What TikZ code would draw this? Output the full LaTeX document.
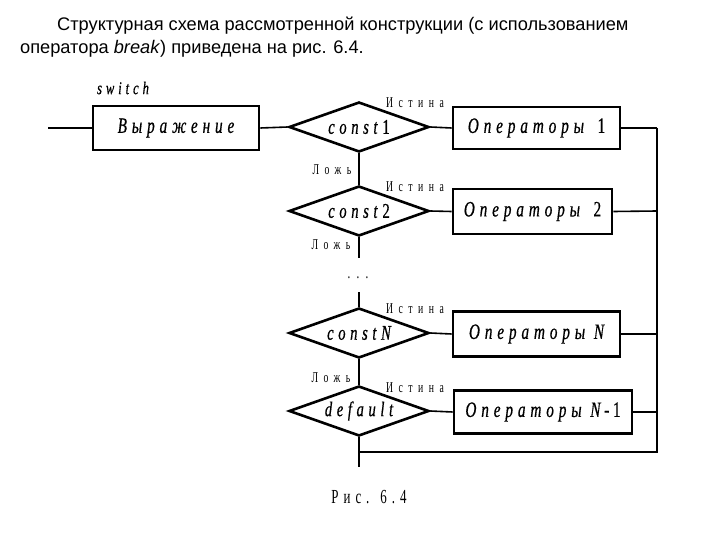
\documentclass[tikz,border=0pt]{standalone}
\usepackage{fontspec}
\usetikzlibrary{shapes.geometric}
\setmainfont{Liberation Serif}
\newfontfamily\hdr{Liberation Sans}
\newfontfamily\lblf[LetterSpace=37,FakeStretch=0.65]{Liberation Serif}
\newfontfamily\capf[LetterSpace=25,FakeStretch=0.65]{Liberation Serif}
\newfontfamily\itf[LetterSpace=22,FakeStretch=0.7,FakeBold=0.6]{Liberation Serif}
\begin{document}
\begin{tikzpicture}[x=1bp,y=-1bp,
  box/.style={draw,line width=2.6bp,inner sep=0,font=\itf\itshape\fontsize{22}{24}\selectfont},
  dia/.style={draw,diamond,aspect=2.8,inner sep=0,line width=2.6bp,minimum width=140bp,minimum height=50bp,font=\itf\itshape\fontsize{21}{23}\selectfont},
  conn/.style={line width=1.6bp},
  lbl/.style={font=\lblf\fontsize{15}{16}\selectfont,inner sep=0},
  hdrtxt/.style={font=\hdr\fontsize{18.3}{20}\selectfont,inner sep=0,anchor=base west}]
\useasboundingbox (0,0) rectangle (720,540);
\node[hdrtxt] (h1) at (57,31) {Структурная схема рассмотренной конструкции (с использованием};
\node[hdrtxt] (h2) at (20,54) {оператора \textit{break}) приведена на рис. 6.4.};
\node[font=\itf\itshape\fontsize{18}{20}\selectfont,inner sep=0] (sw) at (123,88) {switch};
% boxes
\node[box,minimum width=166bp,minimum height=44bp] (expr) at (176,128) {Выражение};
\node[dia] (d1) at (359,127) {const\textup{1}};
\node[dia] (d2) at (359,211) {const\textup{2}};
\node[dia] (dN) at (359,333) {constN};
\node[dia] (dd) at (359,411) {default};
\node[box,minimum width=167bp,minimum height=42bp] (o1) at (536.5,128) {Операторы \textup{1}};
\node[box,minimum width=159bp,minimum height=45bp] (o2) at (532.5,211.5) {Операторы \textup{2}};
\node[box,minimum width=167bp,minimum height=45bp] (oN) at (536.5,334) {Операторы N};
\node[box,minimum width=178bp,minimum height=43bp] (oN1) at (543,412) {Операторы N\,\textup{-\,1}};
% coordinates
\coordinate (in) at (48,128);
\coordinate (b1) at (657,128);
\coordinate (b2) at (657,211);
\coordinate (bN) at (657,334);
\coordinate (bN1) at (657,412);
\coordinate (bb) at (657,452);
\coordinate (jn) at (359,452);
\coordinate (out) at (359,467);
\coordinate (g1) at (359,258);
\coordinate (g2) at (359,292);
% connectors
\draw[conn] (in) -- (expr.west);
\draw[conn] (expr.east) -- (d1.west);
\draw[conn] (d1.east) -- (o1.west);
\draw[conn] (d2.east) -- (o2.west);
\draw[conn] (dN.east) -- (oN.west);
\draw[conn] (dd.east) -- (oN1.west);
\draw[conn] (d1.south) -- (d2.north);
\draw[conn] (d2.south) -- (g1);
\draw[conn] (g2) -- (dN.north);
\draw[conn] (dN.south) -- (dd.north);
\draw[conn] (dd.south) -- (out);
\draw[conn] (o1.east) -- (b1);
\draw[conn] (o2.east) -- (b2);
\draw[conn] (oN.east) -- (bN);
\draw[conn] (oN1.east) -- (bN1);
\draw[conn] (b1) -- (bb) -- (jn);
% labels
\node[lbl] (t1) at (415,103) {Истина};
\node[lbl] (t2) at (415,187) {Истина};
\node[lbl] (t3) at (415,309) {Истина};
\node[lbl] (t4) at (415,388) {Истина};
\node[lbl] (f1) at (332,170) {Ложь};
\node[lbl] (f2) at (331,245) {Ложь};
\node[lbl] (f3) at (331,378) {Ложь};
\node[lbl,font=\lblf\fontsize{17}{17}\selectfont] (dots) at (358,278) {...};
\node[lbl,font=\capf\fontsize{20}{21}\selectfont] (cap) at (369,497) {Рис. 6.4};
\end{tikzpicture}
\end{document}
